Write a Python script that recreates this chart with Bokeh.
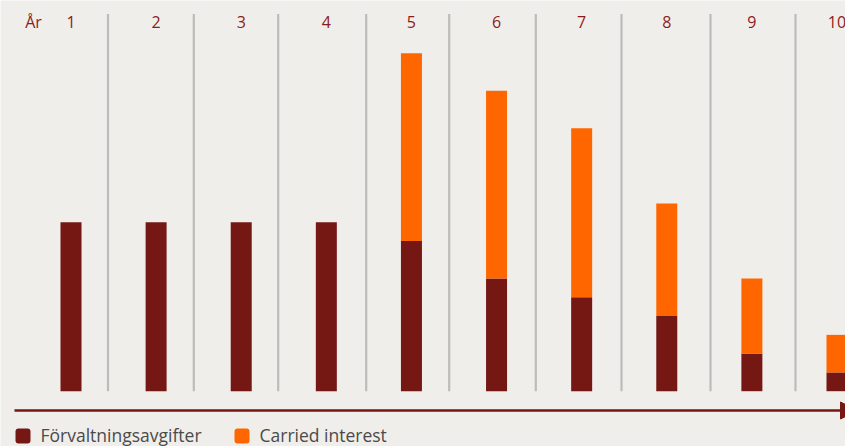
from bokeh.plotting import figure
from bokeh.models import Range1d, ColumnDataSource, Arrow, NormalHead
from bokeh.core.properties import value
from bokeh.embed import file_html
from bokeh.resources import INLINE

# ---- data ----
years = [1, 2, 3, 4, 5, 6, 7, 8, 9, 10]
year_labels = ["1", "2", "3", "4", "5", "6", "7", "8", "9", "10"]
fees = [9, 9, 9, 9, 8, 6, 5, 4, 2, 1]
carry = [0, 0, 0, 0, 10, 10, 9, 6, 4, 2]
series_names = ["Förvaltningsavgifter", "Carried interest"]
axis_title = "År"

# ---- style ----
BG = "#f0eeea"
BROWN = "#751713"
ORANGE = "#ff6600"
SEP = "#bcbcbc"
LABEL = "#8a1c1c"
TEXT = "#4a4a4a"
FONT = "Open Sans"

W, H = 845, 446
# screen mapping helpers (picture coordinates -> data)
PX_X = 85.11
X0 = 1 - 70.5 / PX_X
X1 = X0 + W / PX_X
PX_Y = 18.78
BASE = 390.7
Y0 = -(H - BASE) / PX_Y
Y1 = BASE / PX_Y


def sx(px):
    return X0 + px / PX_X


def sy(px):
    return (BASE - px) / PX_Y


p = figure(width=W, height=H, x_range=Range1d(X0, X1), y_range=Range1d(Y0, Y1),
           output_backend="svg", toolbar_location=None, min_border=0)
p.axis.visible = False
p.grid.visible = False
p.outline_line_color = None
p.background_fill_color = BG
p.border_fill_color = BG

# separators
seps = [sx(v) for v in [107.5, 193.3, 277.7, 365.7, 448.7, 535.3, 621, 710, 795]]
p.segment(x0=seps, x1=seps, y0=[sy(13.5)] * len(seps), y1=[sy(390.7)] * len(seps),
          line_color=SEP, line_width=2.2)

# stacked bars
bottoms_c = fees
tops_c = [f + c for f, c in zip(fees, carry)]
src = ColumnDataSource(dict(x=years, fee=fees, cb=bottoms_c, ct=tops_c,
                            zero=[0] * len(years)))
bw = 21 / PX_X
p.vbar(x="x", bottom="zero", top="fee", width=bw, source=src,
       fill_color=BROWN, line_color=None)
p.vbar(x="x", bottom="cb", top="ct", width=bw, source=src,
       fill_color=ORANGE, line_color=None)

# year labels
p.text(x=years, y=[sy(21.5)] * len(years), text=year_labels,
       text_align="center", text_baseline="middle", text_font=value(FONT),
       text_font_size="16px", text_color=LABEL)
p.text(x=[sx(33)], y=[sy(21.5)], text=[axis_title],
       text_align="center", text_baseline="middle", text_font=value(FONT),
       text_font_size="16px", text_color=LABEL)

# time arrow
p.add_layout(Arrow(end=NormalHead(size=17, fill_color=BROWN, line_color=BROWN),
                   x_start=sx(14), y_start=sy(410), x_end=sx(857), y_end=sy(410),
                   line_color=BROWN, line_width=2.6))

# legend
p.rect(x=[sx(22.5), sx(241.5)], y=[sy(435.5)] * 2, width=15, height=15,
       width_units="screen", height_units="screen",
       fill_color=[BROWN, ORANGE], line_color=None, border_radius=3)
p.text(x=[sx(40), sx(259)], y=[sy(434)] * 2, text=series_names,
       text_align="left", text_baseline="middle", text_font=value(FONT),
       text_font_size="17.5px", text_color=TEXT)

open("out.html", "w").write(file_html(p, INLINE))
